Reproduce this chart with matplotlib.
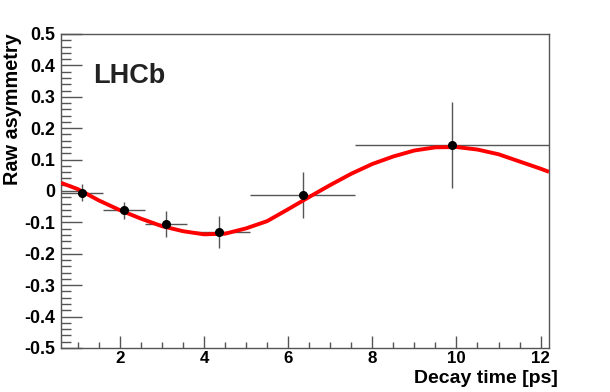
import numpy as np
import matplotlib
matplotlib.use("Agg")
import matplotlib.pyplot as plt
from matplotlib.ticker import MultipleLocator

# Data points (binned raw asymmetry)
bin_edges = [0.6, 1.6, 2.6, 3.6, 5.1, 7.6, 12.2]
t_points = [1.1, 2.1, 3.1, 4.35, 6.35, 9.9]
asym = [-0.005, -0.062, -0.106, -0.131, -0.013, 0.147]
asym_err = [0.026, 0.028, 0.041, 0.052, 0.072, 0.136]

# Fit curve
curve_t = [0.6, 1.0, 1.5, 2.0, 2.5, 3.0, 3.5, 4.0, 4.5, 5.0, 5.5, 6.0, 6.5,
           7.0, 7.5, 8.0, 8.5, 9.0, 9.5, 10.0, 10.5, 11.0, 11.5, 12.0, 12.2]
curve_a = [0.026, 0.006, -0.030, -0.061, -0.088, -0.112, -0.128, -0.138,
           -0.136, -0.119, -0.096, -0.058, -0.019, 0.019, 0.055, 0.086,
           0.110, 0.129, 0.139, 0.140, 0.132, 0.117, 0.094, 0.071, 0.061]

plt.rcParams['font.family'] = ['Liberation Sans', 'DejaVu Sans']
plt.rcParams['font.weight'] = 'bold'

fig = plt.figure(figsize=(6.10, 3.92), dpi=100)
W, H = 610, 392
ax = fig.add_axes([61 / W, 1 - 348 / H, (549 - 61) / W, (348 - 34) / H])

edges = np.array(bin_edges)
tp = np.array(t_points)
xerr = np.vstack([tp - edges[:-1], edges[1:] - tp])

ax.errorbar(tp, asym, xerr=xerr, yerr=asym_err, fmt='none',
            ecolor='#555555', elinewidth=1.0, capsize=0, zorder=2)
ax.plot(curve_t, curve_a, color='#ff0000', lw=2.8, zorder=3,
        solid_capstyle='butt', solid_joinstyle='round')
ax.plot(tp, asym, 'o', color='black', ms=5.5, zorder=4)

ax.set_xlim(0.6, 12.2)
ax.set_ylim(-0.5, 0.5)
ax.xaxis.set_major_locator(MultipleLocator(2))
ax.xaxis.set_minor_locator(MultipleLocator(0.5))
ax.yaxis.set_major_locator(MultipleLocator(0.1))
ax.yaxis.set_minor_locator(MultipleLocator(0.02))

def yfmt(v, pos):
    if abs(v) < 1e-9:
        return '0'
    return f'{v:.1f}'
ax.yaxis.set_major_formatter(plt.FuncFormatter(yfmt))
ax.xaxis.set_major_formatter(plt.FuncFormatter(lambda v, p: f'{v:g}'))

ax.tick_params(axis='both', which='both', direction='in', color='#555555',
               top=False, right=False)
ax.tick_params(axis='y', which='major', length=15, width=1, pad=4.3,
               labelsize=12.8)
ax.tick_params(axis='y', which='minor', length=7, width=1)
ax.tick_params(axis='x', which='major', length=9, width=1, pad=2.5,
               labelsize=12.2)
ax.tick_params(axis='x', which='minor', length=4.5, width=1)
for lbl in ax.get_xticklabels() + ax.get_yticklabels():
    lbl.set_fontweight('bold')

for s in ax.spines.values():
    s.set_color('#555555')
    s.set_linewidth(1.0)

# Axis titles (ROOT style: aligned to the axis ends)
fig.text(558 / W, 1 - 383 / H, 'Decay time [ps]', fontsize=14,
         fontweight='bold', ha='right', va='baseline')
fig.text(3 / W, 1 - 33 / H, 'Raw asymmetry', fontsize=14.3,
         fontweight='bold', rotation=90, ha='left', va='top')

ax.text(93 / W, 1 - 83 / H, 'LHCb', transform=fig.transFigure,
        fontsize=19.5, fontweight='bold', color='#222222',
        ha='left', va='baseline')

fig.savefig('out.png', dpi=100)
